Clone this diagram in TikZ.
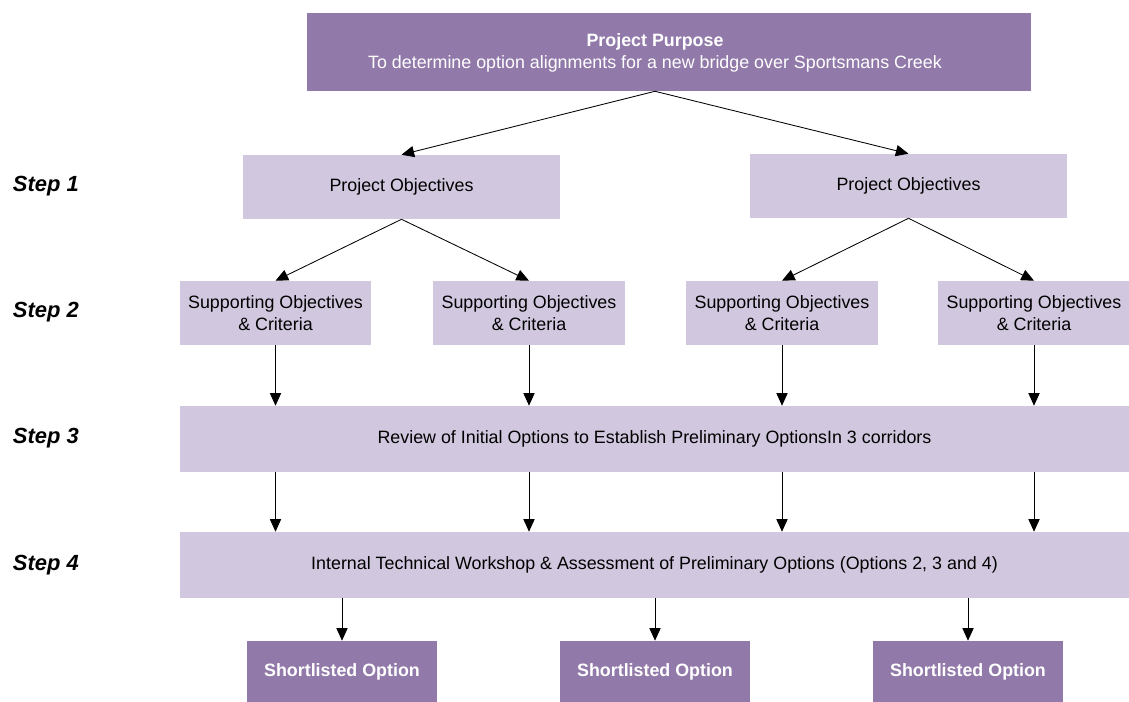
\documentclass[tikz,border=0pt]{standalone}
\usepackage{fontspec}
\setmainfont{Liberation Sans}
\usetikzlibrary{arrows.meta}

\definecolor{purpdark}{HTML}{9179A9}
\definecolor{purplight}{HTML}{D1C8DF}

\tikzset{
  darkbox/.style={fill=purpdark,text=white,font=\fontsize{12.7}{15.5}\selectfont\bfseries,align=center,inner sep=0pt},
  lightbox/.style={fill=purplight,text=black,font=\fontsize{12.7}{15.5}\selectfont,align=center,inner sep=0pt},
  steplabel/.style={anchor=west,font=\fontsize{15.6}{18}\selectfont\bfseries\itshape},
  arr/.style={-{Triangle[length=9pt,width=8pt]},black,line width=0.6pt}
}

\begin{document}
\begin{tikzpicture}[x=0.025cm,y=-0.025cm]
  \useasboundingbox (0,0) rectangle (1129,702);
  % boxes, at pixel positions of the layout
  \node[darkbox,minimum width=18.1cm,minimum height=1.95cm] (purpose) at (669,52) {};
  \node[darkbox] (purposetext) at (655,53)
    {Project Purpose\\\mdseries To determine option alignments for a new bridge over Sportsmans Creek};
  \coordinate (fork) at (purpose.south -| purposetext.south);
  \node[lightbox,minimum width=7.925cm,minimum height=1.6cm] (po1) at (401.5,187) {Project Objectives};
  \node[lightbox,minimum width=7.925cm,minimum height=1.6cm] (po2) at (908.5,186) {Project Objectives};
  \node[lightbox,minimum width=4.775cm,minimum height=1.6cm] (sup1) at (275.5,313) {Supporting Objectives\\\& Criteria};
  \node[lightbox,minimum width=4.775cm,minimum height=1.6cm] (sup2) at (529,313) {Supporting Objectives\\\& Criteria};
  \node[lightbox,minimum width=4.775cm,minimum height=1.6cm] (sup3) at (782,313) {Supporting Objectives\\\& Criteria};
  \node[lightbox,minimum width=4.775cm,minimum height=1.6cm] (sup4) at (1034,313) {Supporting Objectives\\\& Criteria};
  \node[lightbox,minimum width=23.725cm,minimum height=1.65cm] (review) at (654.5,439)
    {Review of Initial Options to Establish Preliminary OptionsIn 3 corridors};
  \node[lightbox,minimum width=23.725cm,minimum height=1.65cm] (workshop) at (654.5,565)
    {Internal Technical Workshop \& Assessment of Preliminary Options (Options 2, 3 and 4)};
  \node[darkbox,minimum width=4.75cm,minimum height=1.525cm] (short1) at (342,671.5) {Shortlisted Option};
  \node[darkbox,minimum width=4.75cm,minimum height=1.525cm] (short2) at (655,671.5) {Shortlisted Option};
  \node[darkbox,minimum width=4.75cm,minimum height=1.525cm] (short3) at (968,671.5) {Shortlisted Option};
  % step labels
  \node[steplabel] (s1) at (8,186) {Step 1};
  \node[steplabel] (s2) at (8,312) {Step 2};
  \node[steplabel] (s3) at (8,438) {Step 3};
  \node[steplabel] (s4) at (8,565) {Step 4};
  % connectors
  \draw[arr] (fork) -- (po1.north);
  \draw[arr] (fork) -- (po2.north);
  \draw[arr] (po1.south) -- (sup1.north);
  \draw[arr] (po1.south) -- (sup2.north);
  \draw[arr] (po2.south) -- (sup3.north);
  \draw[arr] (po2.south) -- (sup4.north);
  \foreach \k in {1,2,3,4} {
    \draw[arr] (sup\k.south) -- (sup\k.south |- review.north);
    \draw[arr] (review.south -| sup\k.south) -- (sup\k.south |- workshop.north);
  }
  \foreach \k in {1,2,3}
    \draw[arr] (workshop.south -| short\k.north) -- (short\k.north);
\end{tikzpicture}
\end{document}
